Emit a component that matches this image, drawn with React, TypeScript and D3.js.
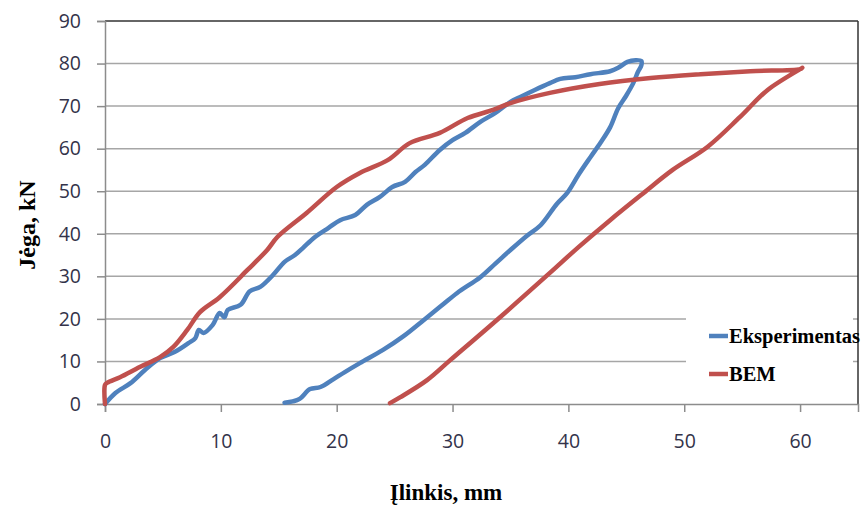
import React, { useEffect, useRef } from 'react';
import * as d3 from 'd3';

// Eksperimentas: loading branch then unloading branch (x = mm, y = kN)
const expX = [0, 0.9, 2.2, 3.45, 4.75, 6.0, 7.2, 7.8, 8.1, 8.5, 9.3, 9.9, 10.3, 10.6, 11.7, 12.5, 13.4, 14.5, 15.5, 16.4, 17.1, 18.1, 19.3, 20.3, 21.6, 22.6, 23.7, 24.8, 25.9, 26.8, 27.6, 28.9, 30.0, 31.1, 32.4, 33.7, 35.0, 35.8, 37.1, 38.4, 39.3, 40.6, 41.9, 43.6, 44.3, 45.1, 45.8, 46.3, 46.3, 46.0, 45.6, 45.0, 44.3, 43.6, 42.8, 41.9, 40.9, 39.9, 39.0, 37.6, 36.4, 35.0, 33.7, 32.4, 30.4, 29.0, 27.5, 25.8, 24.0, 22.0, 20.7, 19.7, 18.6, 17.7, 16.8, 16.2, 15.5];
const expY = [0, 2.6, 4.9, 8.0, 10.8, 12.2, 14.3, 15.5, 17.4, 16.7, 18.6, 21.4, 20.4, 22.1, 23.3, 26.5, 27.5, 30.3, 33.4, 35.0, 36.7, 39.2, 41.4, 43.2, 44.4, 46.8, 48.6, 51.0, 52.2, 54.5, 56.2, 59.7, 62.0, 63.7, 66.3, 68.4, 71.0, 72.1, 73.8, 75.4, 76.4, 76.8, 77.5, 78.2, 79.0, 80.4, 80.8, 80.6, 79.6, 78.0, 75.4, 72.5, 69.5, 65.0, 61.5, 58.0, 54.0, 49.6, 47.0, 42.0, 39.5, 36.2, 33.0, 29.8, 26.1, 23.0, 19.7, 16.0, 12.7, 9.6, 7.5, 5.8, 4.0, 3.5, 1.2, 0.6, 0.3];

// BEM: loading branch then unloading branch
const bemX = [0, 0, 0.2, 1.3, 3.0, 4.75, 5.9, 7.1, 8.2, 9.9, 12.3, 14.0, 14.9, 17.4, 20.0, 22.0, 24.4, 26.3, 28.9, 31.3, 33.5, 35.0, 38.4, 42.7, 47.1, 51.4, 55.7, 60.0, 60.2, 57.2, 54.8, 52.0, 49.0, 46.5, 43.6, 40.8, 38.4, 34.1, 29.8, 27.8, 25.5, 24.6];
const bemY = [0, 4.5, 5.0, 6.3, 8.7, 11.0, 13.4, 17.4, 21.6, 25.1, 31.5, 36.2, 39.3, 44.9, 51.0, 54.3, 57.3, 61.3, 63.7, 67.2, 69.1, 70.7, 73.1, 75.2, 76.6, 77.5, 78.2, 78.7, 79.0, 73.8, 67.4, 60.4, 55.0, 49.6, 43.2, 36.7, 30.8, 20.4, 10.3, 5.6, 1.6, 0.2];

const xTicks = [0, 10, 20, 30, 40, 50, 60];
const yTicks = [0, 10, 20, 30, 40, 50, 60, 70, 80, 90];
const seriesNames = ['Eksperimentas', 'BEM'];
const seriesColors = ['#4F81BD', '#C0504D'];

const W = 865;
const H = 509;
const left = 105;
const right = 858;
const top = 21;
const bottom = 404;

export default function App() {
  const ref = useRef<SVGSVGElement>(null);

  useEffect(() => {
    if (!ref.current) return;
    const svg = d3.select(ref.current);
    svg.selectAll('*').remove();

    const x = d3.scaleLinear().domain([0, 65]).range([left, right]);
    const y = d3.scaleLinear().domain([0, 90]).range([bottom, top]);

    const tickFont = "'Open Sans', 'Noto Sans', sans-serif";
    const serif = "'Liberation Serif', 'DejaVu Serif', serif";
    const tickColor = '#33334a';

    // horizontal grid lines
    svg
      .append('g')
      .selectAll('line')
      .data(yTicks.filter((t) => t > 0 && t < 90))
      .join('line')
      .attr('x1', left)
      .attr('x2', right)
      .attr('y1', (d) => y(d))
      .attr('y2', (d) => y(d))
      .attr('stroke', '#a6a6a6')
      .attr('stroke-width', 1.5);

    // top and right borders
    svg.append('line').attr('x1', left).attr('x2', right).attr('y1', top).attr('y2', top)
      .attr('stroke', '#333').attr('stroke-width', 1.5);
    svg.append('line').attr('x1', right).attr('x2', right).attr('y1', top).attr('y2', bottom)
      .attr('stroke', '#333').attr('stroke-width', 1.5);

    // y axis
    const yAxis = svg
      .append('g')
      .attr('transform', `translate(${left},0)`)
      .call(d3.axisLeft(y).tickValues(yTicks).tickSize(8).tickPadding(16));
    yAxis.select('.domain').attr('stroke', '#8c8c8c').attr('stroke-width', 1.5);
    yAxis.selectAll('.tick line').attr('stroke', '#8c8c8c').attr('stroke-width', 1.5);
    yAxis.selectAll('.tick text')
      .attr('font-family', tickFont).attr('font-size', 19.5).attr('fill', tickColor);

    // x axis
    const xAxis = svg
      .append('g')
      .attr('transform', `translate(0,${bottom})`)
      .call(d3.axisBottom(x).tickValues(xTicks).tickSize(8).tickPadding(22));
    xAxis.select('.domain').attr('stroke', '#8c8c8c').attr('stroke-width', 1.5);
    xAxis.selectAll('.tick line').attr('stroke', '#8c8c8c').attr('stroke-width', 1.5);
    xAxis.selectAll('.tick text')
      .attr('font-family', tickFont).attr('font-size', 19.5).attr('fill', tickColor);

    // series
    const line = d3
      .line<[number, number]>()
      .x((d) => x(d[0]))
      .y((d) => y(d[1]))
      .curve(d3.curveCatmullRom.alpha(0.5));

    const series: [number, number][][] = [
      expX.map((v, i) => [v, expY[i]]),
      bemX.map((v, i) => [v, bemY[i]]),
    ];
    series.forEach((pts, i) => {
      svg
        .append('path')
        .datum(pts)
        .attr('fill', 'none')
        .attr('stroke', seriesColors[i])
        .attr('stroke-width', 4.5)
        .attr('stroke-linejoin', 'round')
        .attr('stroke-linecap', 'round')
        .attr('d', line);
    });

    // legend
    const lg = svg.append('g');
    lg.append('rect').attr('x', 686).attr('y', 300).attr('width', 167).attr('height', 98).attr('fill', '#fff');
    seriesNames.forEach((name, i) => {
      const cy = 336 + i * 38;
      lg.append('line').attr('x1', 709).attr('x2', 728).attr('y1', cy).attr('y2', cy)
        .attr('stroke', seriesColors[i]).attr('stroke-width', 4.5);
      lg.append('text').attr('x', 729).attr('y', cy + 7).text(name)
        .attr('font-family', serif).attr('font-weight', 'bold').attr('font-size', 20.5).attr('fill', '#000');
    });

    // axis titles
    svg.append('text')
      .attr('transform', `translate(35,225) rotate(-90)`)
      .attr('text-anchor', 'middle')
      .attr('font-family', serif).attr('font-weight', 'bold').attr('font-size', 24)
      .text('Jėga, kN');
    svg.append('text')
      .attr('x', 446).attr('y', 500)
      .attr('text-anchor', 'middle')
      .attr('font-family', serif).attr('font-weight', 'bold').attr('font-size', 23)
      .text('Įlinkis, mm');
  }, []);

  return (
    <svg ref={ref} width={W} height={H} style={{ position: 'absolute', left: 0, top: 0, background: '#fff' }} />
  );
}
